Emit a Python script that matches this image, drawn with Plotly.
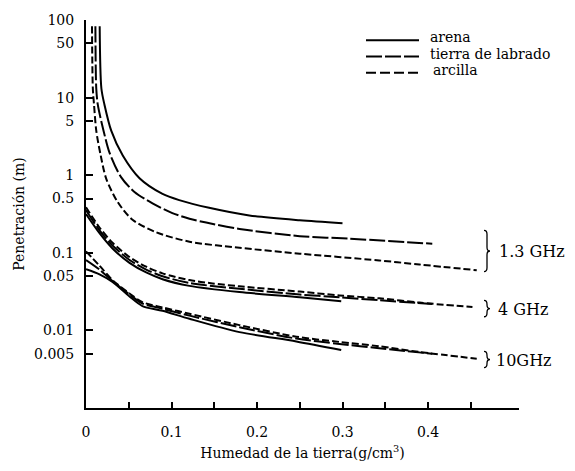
import plotly.graph_objects as go

# ---------------- data ----------------
soil_names = ["arena", "tierra de labrado", "arcilla"]
freq_labels = ["1.3 GHz", "4 GHz", "10GHz"]
y_tick_vals = [0.005, 0.01, 0.05, 0.1, 0.5, 1, 5, 10, 50, 100]
y_tick_text = ["0.005", "0.01", "0.05", "0.1", "0.5", "1", "5", "10", "50", "100"]
x_tick_vals = [0, 0.1, 0.2, 0.3, 0.4]
x_tick_text = ["0", "0.1", "0.2", "0.3", "0.4"]
x_minor_vals = [0.05, 0.15, 0.25, 0.35, 0.45]

# 1.3 GHz
arena_13_x = [0.016, 0.018, 0.0216, 0.0295, 0.043, 0.0626, 0.0895, 0.109, 0.144, 0.191, 0.25, 0.30]
arena_13_y = [83, 13.1, 8.1, 3.75, 1.79, 0.913, 0.574, 0.478, 0.38, 0.303, 0.263, 0.241]
tierra_13_x = [0.011, 0.012, 0.0138, 0.0205, 0.0275, 0.041, 0.0567, 0.0778, 0.101, 0.121, 0.1406, 0.1795, 0.25, 0.308, 0.405]
tierra_13_y = [83, 13.1, 8.1, 3.75, 1.95, 0.944, 0.608, 0.433, 0.325, 0.275, 0.245, 0.203, 0.164, 0.152, 0.131]
arcilla_13_x = [0.007, 0.008, 0.0094, 0.012, 0.017, 0.0236, 0.0372, 0.0544, 0.0821, 0.121, 0.1795, 0.25, 0.343, 0.39, 0.457]
arcilla_13_y = [83, 13.1, 8.1, 3.75, 1.84, 0.905, 0.448, 0.267, 0.184, 0.139, 0.116, 0.0975, 0.0797, 0.0707, 0.0596]

# 4 GHz
arena_4_x = [0.0, 0.0158, 0.031, 0.0509, 0.0704, 0.0895, 0.121, 0.1795, 0.25, 0.2985]
arena_4_y = [0.316, 0.179, 0.1137, 0.0742, 0.0558, 0.0457, 0.0375, 0.0312, 0.0267, 0.0238]
tierra_4_x = [0.0, 0.0158, 0.031, 0.0509, 0.0704, 0.0895, 0.121, 0.1795, 0.25, 0.2965, 0.343, 0.405]
tierra_4_y = [0.354, 0.195, 0.124, 0.0808, 0.0608, 0.0499, 0.0408, 0.0344, 0.029, 0.0267, 0.0245, 0.0219]
arcilla_4_x = [0.0, 0.0158, 0.031, 0.0509, 0.0704, 0.0895, 0.121, 0.148, 0.1795, 0.25, 0.2965, 0.343, 0.39, 0.452]
arcilla_4_y = [0.386, 0.212, 0.135, 0.088, 0.0662, 0.0543, 0.0445, 0.0403, 0.037, 0.0316, 0.0282, 0.0259, 0.0228, 0.020]

# 10 GHz
arena_10_x = [0.0, 0.0158, 0.031, 0.0509, 0.066, 0.0895, 0.121, 0.1795, 0.246, 0.2985]
arena_10_y = [0.0613, 0.0527, 0.042, 0.0274, 0.0206, 0.0179, 0.0141, 0.0095, 0.0072, 0.00558]
tierra_10_x = [0.0, 0.0158, 0.031, 0.0509, 0.066, 0.0895, 0.121, 0.1795, 0.246, 0.2965, 0.343, 0.405]
tierra_10_y = [0.0808, 0.0608, 0.0432, 0.029, 0.0222, 0.019, 0.0155, 0.011, 0.00785, 0.0067, 0.0059, 0.005]
arcilla_10_x = [0.0, 0.0158, 0.031, 0.0509, 0.066, 0.0895, 0.121, 0.1795, 0.246, 0.2965, 0.343, 0.39, 0.457]
arcilla_10_y = [0.1044, 0.0681, 0.0445, 0.0299, 0.0231, 0.0198, 0.0164, 0.0117, 0.0083, 0.0071, 0.00625, 0.00527, 0.00432]

# ---------------- styling ----------------
FONT = "DejaVu Serif"
dash_of = {"arena": "solid", "tierra de labrado": "16px,3px", "arcilla": "7px,3px"}
legend_dash = {"arena": "solid", "tierra de labrado": "16px,3px", "arcilla": "10px,4px"}
W, H = 575, 471
ML, MR, MT, MB = 86, 56, 12, 55
PW, PH = W - ML - MR, H - MT - MB


def px(x):
    return (x - ML) / PW


def py(y):
    return (H - MB - y) / PH


def brace_path(x0, y0, y1):
    """thin right-facing curly brace from pixel y0 to y1 at pixel x0"""
    xm, xt = x0 + 3, x0 + 6
    ym = (y0 + y1) / 2
    k = 4
    return ("M {a},{b} Q {c},{b} {c},{d} L {c},{e} Q {c},{f} {g},{f} "
            "Q {c},{f} {c},{h} L {c},{i} Q {c},{j} {a},{j}").format(
        a=px(x0), c=px(xm), g=px(xt),
        b=py(y0), d=py(y0 + k), e=py(ym - k), f=py(ym), h=py(ym + k), i=py(y1 - k), j=py(y1))


series = [
    ("arena", arena_13_x, arena_13_y), ("tierra de labrado", tierra_13_x, tierra_13_y), ("arcilla", arcilla_13_x, arcilla_13_y),
    ("arena", arena_4_x, arena_4_y), ("tierra de labrado", tierra_4_x, tierra_4_y), ("arcilla", arcilla_4_x, arcilla_4_y),
    ("arena", arena_10_x, arena_10_y), ("tierra de labrado", tierra_10_x, tierra_10_y), ("arcilla", arcilla_10_x, arcilla_10_y),
]

fig = go.Figure()
for name, xs, ys in series:
    fig.add_trace(go.Scatter(
        x=xs, y=ys, mode="lines", name=name, showlegend=False,
        line=dict(color="black", width=2, dash=dash_of[name], shape="spline", smoothing=0.8),
    ))

# manual legend (samples + labels)
leg_rows = [33, 50, 67]
shapes = []
annotations = []
for name, yrow in zip(soil_names, leg_rows):
    shapes.append(dict(type="line", xref="paper", yref="paper",
                       x0=px(366), x1=px(419), y0=py(yrow), y1=py(yrow),
                       line=dict(color="black", width=2, dash=legend_dash[name])))
    annotations.append(dict(xref="paper", yref="paper", x=px(428 if name != "arcilla" else 431), y=py(yrow - 3),
                            text=name, showarrow=False, xanchor="left", yanchor="middle",
                            font=dict(family=FONT, size=14, color="black")))

# frequency labels with braces
brace_spans = [(231, 274), (304, 321), (357, 374)]
text_x = [497, 496, 494]
for lab, (y0, y1), tx in zip(freq_labels, brace_spans, text_x):
    shapes.append(dict(type="path", xref="paper", yref="paper", path=brace_path(484, y0, y1),
                       line=dict(color="black", width=1.3)))
    annotations.append(dict(xref="paper", yref="paper", x=px(tx), y=py((y0 + y1) / 2 + 1), text=lab,
                            showarrow=False, xanchor="left", yanchor="middle",
                            font=dict(family=FONT, size=16, color="black")))

fig.update_layout(
    width=W, height=H,
    margin=dict(l=ML, r=MR, t=MT, b=MB),
    paper_bgcolor="white", plot_bgcolor="white",
    font=dict(family=FONT, size=14, color="black"),
    shapes=shapes, annotations=annotations,
)
fig.update_xaxes(
    range=[0, PW / 855.0], showgrid=False, zeroline=False,
    showline=True, linecolor="black", linewidth=2,
    ticks="inside", ticklen=6, tickwidth=1.5, tickcolor="black",
    tickvals=x_tick_vals, ticktext=x_tick_text, ticklabelstandoff=10,
    minor=dict(tickvals=x_minor_vals, ticks="inside", ticklen=6, tickwidth=1.5, tickcolor="black", showgrid=False),
    tickfont=dict(family=FONT, size=14),
    title=dict(text="Humedad de la tierra(g/cm<sup>3</sup>)", font=dict(family=FONT, size=14), standoff=9),
)
fig.update_yaxes(
    type="log", range=[-3, 2], showgrid=False, zeroline=False,
    showline=True, linecolor="black", linewidth=2,
    ticks="inside", ticklen=7, tickwidth=1.5, tickcolor="black",
    tickvals=y_tick_vals, ticktext=y_tick_text, ticklabelstandoff=7,
    tickfont=dict(family=FONT, size=14),
    title=dict(text="Penetración (m)", font=dict(family=FONT, size=14), standoff=6),
)

fig.write_html("out.html", config={"displayModeBar": False},
               post_script="document.body.style.margin='0';document.body.style.overflow='hidden';")
